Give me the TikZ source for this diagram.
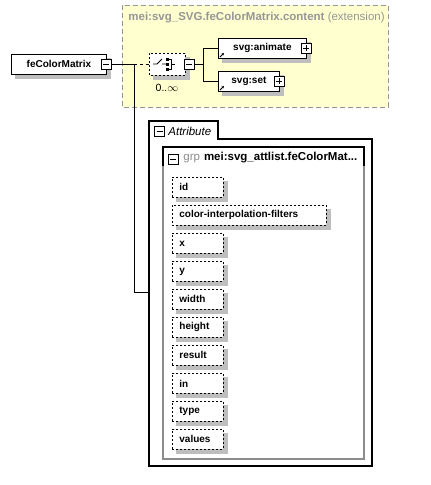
\documentclass[tikz,border=0pt]{standalone}
\usepackage{fontspec}
\setmainfont{Liberation Sans}
\usetikzlibrary{positioning, shapes.misc, arrows.meta}

\definecolor{extfill}{RGB}{255,255,208}
\definecolor{extline}{RGB}{150,150,150}
\definecolor{grpline}{RGB}{140,140,140}
\definecolor{shadowgray}{RGB}{190,190,190}

\tikzset{
  dropbox/.style={draw=shadowgray, fill=shadowgray, line width=0.5pt},
  elem/.style={draw, solid, fill=white, font=\bfseries, minimum height=20pt, inner sep=0pt, anchor=north west},
  attr/.style={elem, dash pattern=on 2pt off 2pt, align=left, inner xsep=7pt, text width=37pt},
  seqshape/.style={chamfered rectangle, chamfered rectangle xsep=5pt, chamfered rectangle ysep=5pt,
    minimum width=36pt, minimum height=22pt, inner sep=0pt},
  collapse/.pic={\draw[fill=white] (-5,-5) rectangle (5,5); \draw (-3,0) -- (3,0);},
  expand/.pic={\draw[fill=white] (-5,-5) rectangle (5,5); \draw (-3,0) -- (3,0) (0,-3) -- (0,3);},
  reflink/.pic={\draw[-{Stealth[length=2.5pt,width=2.5pt]}, line width=0.8pt] (0,0) -- (4,-4);},
}

\begin{document}
\begin{tikzpicture}[x=1pt, y=-1pt, line width=0.8pt, font=\fontsize{11.5}{13}\selectfont]
\useasboundingbox (0,0) rectangle (431,485);

% extension group
\draw[extline, dash pattern=on 5pt off 3pt, fill=extfill] (122,5) rectangle (388,107);
\node[anchor=west, text=extline, inner sep=0pt] (title) at (128,18)
  {\textbf{mei:svg\_SVG.feColorMatrix.content} (extension)};

% shadows
\draw[dropbox] (15,58) rectangle (110,78);
\node[seqshape, dropbox] (seqshadow) at (171,68) {};
\draw[dropbox] (222,42) rectangle (310,62);
\draw[dropbox] (222,75) rectangle (283,95);
\draw[dropbox] (176,181) rectangle (227,201);
\draw[dropbox] (176,209) rectangle (330,229);
\foreach \i in {1,...,8}
  \draw[dropbox] (176,209+28*\i) rectangle (227,229+28*\i);

% root element
\node[elem, minimum width=95pt] (root) at (11,54) {feColorMatrix};
\pic at (106,64) {collapse};
\coordinate (rootout) at (111,64);
\coordinate (fork) at (134,64);

% sequence compositor
\node[draw, dash pattern=on 2pt off 2pt, fill=white, seqshape] (seq) at (167,64) {};
\draw (153,64) -- (157,64) -- (162,59) (162,64) -- (166,64);
\foreach \dy in {-5,0,5}
  \fill (165.5,64+\dy-1.5) rectangle +(3,3);
\draw (168.5,59) -- (171,59) -- (171,69) -- (168.5,69) (171,64) -- (175,64);
\pic at (189,64) {collapse};
\node[font=\fontsize{10.5}{12}\selectfont, inner sep=0pt] (card) at (167,88) {0..$\infty$};
\coordinate (seqout) at (194,64);
\coordinate (branch) at (203,64);

% children
\node[elem, minimum width=88pt] (animate) at (218,38) {svg:animate};
\pic at (306,48) {expand};
\pic at (220,57) {reflink};
\node[elem, minimum width=61pt] (set) at (218,71) {svg:set};
\pic at (279,81) {expand};
\pic at (220,90) {reflink};

% connectors
\draw (rootout) -- (fork);
\draw[dash pattern=on 3pt off 3pt] (fork) -- (seq.west);
\draw (seqout) -- (branch);
\draw (branch |- animate.west) -- (animate.west);
\draw (branch |- set.west) -- (set.west);
\draw (branch |- animate.west) -- (branch |- set.west);

% attributes panel
\draw[line width=1.5pt] (149,466) -- (149,121) -- (218,121) -- (218,139) -- (372,139) -- (372,466) -- cycle;
\coordinate (panel) at (149,292);
\pic at (159.5,131) {collapse};
\node[anchor=west, font=\fontsize{11.5}{13}\selectfont\itshape, inner sep=0pt] (attrtab) at (168,131) {Attribute};
\draw (fork) |- (panel);

% attribute group
\draw[grpline, line width=1.5pt] (163,147) rectangle (364,459);
\draw[line width=1.2pt] (163,166) -- (163,147) -- (364,147) -- (364,166);
\pic at (173,159) {collapse};
\node[anchor=west, inner sep=0pt] (grp) at (183,158)
  {\textcolor{grpline}{grp}\hspace{4pt}\textbf{mei:svg\_attlist.feColorMat...}};

\node[attr] (a-id) at (172,177) {id};
\node[attr, text width=140pt] (a-cif) at (172,205) {color-interpolation-filters};
\foreach \n [count=\i] in {x,y,width,height,result,in,type,values}
  \node[attr] (a-\i) at (172,205+28*\i) {\n};
\end{tikzpicture}
\end{document}
